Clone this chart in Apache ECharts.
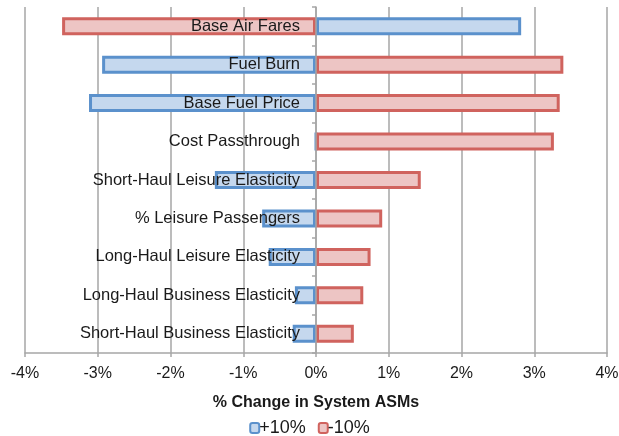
<!DOCTYPE html>
<html>
<head>
<meta charset="utf-8">
<script src="https://cdn.jsdelivr.net/npm/echarts@6/dist/echarts.min.js"></script>
<style>
html,body{margin:0;padding:0;background:#fff;}
#chart{width:619px;height:436px;}
</style>
</head>
<body>
<div id="chart"></div>
<script>
const categories = [
  "Base Air Fares",
  "Fuel Burn",
  "Base Fuel Price",
  "Cost Passthrough",
  "Short-Haul Leisure Elasticity",
  "% Leisure Passengers",
  "Long-Haul Leisure Elasticity",
  "Long-Haul Business Elasticity",
  "Short-Haul Business Elasticity"
];
const plus10 = [2.82, -2.94, -3.12, 0.0, -1.39, -0.74, -0.65, -0.29, -0.32];
const minus10 = [-3.49, 3.40, 3.35, 3.27, 1.44, 0.91, 0.75, 0.65, 0.52];
const xTicks = [-4, -3, -2, -1, 0, 1, 2, 3, 4];

const FONT = "Liberation Sans";
const GRID_LEFT = 25, GRID_RIGHT = 12;
const PLOT_W = 619 - GRID_LEFT - GRID_RIGHT;
const zeroOffset = PLOT_W * (0 - xTicks[0]) / (xTicks[xTicks.length - 1] - xTicks[0]);

const chart = echarts.init(document.getElementById('chart'), null, {renderer: 'canvas'});
chart.setOption({
  animation: false,
  textStyle: {fontFamily: FONT},
  grid: {left: GRID_LEFT, right: GRID_RIGHT, top: 7, bottom: 83, containLabel: false, outerBoundsMode: 'none'},
  xAxis: {
    type: 'value',
    min: xTicks[0], max: xTicks[xTicks.length - 1], interval: 1,
    name: '% Change in System ASMs',
    nameLocation: 'middle',
    nameGap: 42,
    nameTextStyle: {fontFamily: FONT, fontSize: 16, fontWeight: 'bold', color: '#1a1a1a'},
    axisLine: {show: true, onZero: false, lineStyle: {color: '#a6a6a6', width: 1.5}},
    axisTick: {show: true, length: 4, lineStyle: {color: '#a6a6a6', width: 1.5}},
    axisLabel: {margin: 13, fontFamily: FONT, fontSize: 16, color: '#1a1a1a',
      formatter: v => v + '%'},
    splitLine: {show: true, lineStyle: {color: '#a6a6a6', width: 1.5}}
  },
  yAxis: {
    type: 'category',
    data: categories,
    inverse: true,
    z: 10,
    axisLine: {show: true, onZero: true, lineStyle: {color: '#a6a6a6', width: 1.5}},
    axisTick: {show: true, length: 4, lineStyle: {color: '#a6a6a6', width: 1.5}},
    axisLabel: {margin: -(zeroOffset - 16), fontFamily: FONT, fontSize: 16.5, color: '#1a1a1a', align: 'right', padding: [5, 0, 0, 0]},
    splitLine: {show: false}
  },
  legend: {
    top: 414,
    left: 'center',
    itemWidth: 9, itemHeight: 10, itemGap: 12,
    icon: 'roundRect',
    textStyle: {fontFamily: FONT, fontSize: 18, color: '#1a1a1a', padding: [0,0,0,-5]},
    data: ['+10%', '-10%']
  },
  series: [
    {
      name: '+10%', type: 'bar', data: plus10,
      barWidth: 18, barGap: '-100%',
      itemStyle: {color: '#c5d8ee', borderColor: '#5b91cc', borderWidth: 3}
    },
    {
      name: '-10%', type: 'bar', data: minus10,
      barWidth: 18, barGap: '-100%',
      itemStyle: {color: '#edc5c4', borderColor: '#d0635e', borderWidth: 3}
    }
  ]
});
</script>
</body>
</html>
